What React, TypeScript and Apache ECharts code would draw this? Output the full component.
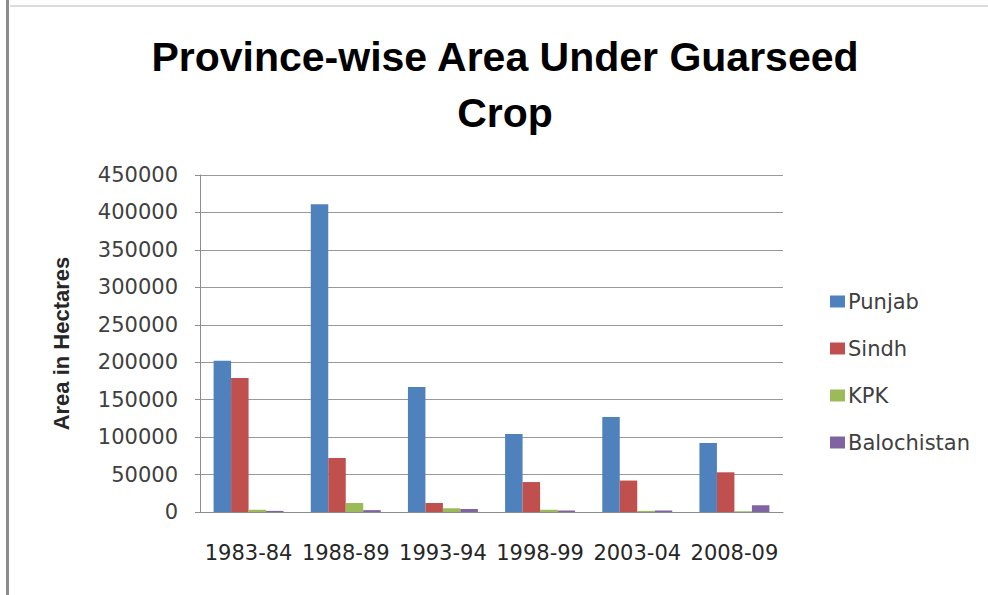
import React, { useEffect, useRef } from "react";
import * as echarts from "echarts";

const categories = ["1983-84", "1988-89", "1993-94", "1998-99", "2003-04", "2008-09"];
const punjab = [202000, 411000, 167000, 104000, 127000, 92000];
const sindh = [179000, 72000, 12000, 40000, 42000, 53000];
const kpk = [3000, 12000, 5000, 3000, 1500, 1000];
const balochistan = [1500, 2500, 4000, 2000, 2000, 9000];
const yTicks = { min: 0, max: 450000, interval: 50000 };

export default function App() {
  const ref = useRef<HTMLDivElement>(null);
  useEffect(() => {
    if (!ref.current) return;
    const chart = echarts.init(ref.current, undefined, { renderer: "svg" });
    const mk = (name: string, data: number[], color: string) => ({
      name,
      type: "bar",
      data,
      barGap: "0%",
      barCategoryGap: "28%",
      itemStyle: { color },
    });
    chart.setOption({
      animation: false,
      backgroundColor: "#ffffff",
      title: {
        text: "Province-wise Area Under Guarseed\nCrop",
        left: 505,
        top: 29,
        textAlign: "center",
        padding: 0,
        textStyle: {
          fontFamily: "Liberation Sans",
          fontWeight: "bold",
          fontSize: 41,
          lineHeight: 56,
          color: "#000000",
        },
      },
      legend: {
        orient: "vertical",
        left: 825,
        top: 286,
        itemWidth: 15,
        itemHeight: 12,
        itemGap: 26,
        icon: "rect",
        textStyle: { fontFamily: "DejaVu Sans", fontSize: 21, lineHeight: 21, color: "#404040", padding: [0, 0, 0, -2] },
        data: ["Punjab", "Sindh", "KPK", "Balochistan"],
      },
      grid: { left: 200, right: 205, top: 175, bottom: 83, containLabel: false },
      xAxis: {
        type: "category",
        data: categories,
        axisLine: { lineStyle: { color: "#8c8c8c", width: 1 } },
        axisTick: { show: false },
        axisLabel: { interval: 0, margin: 30, fontFamily: "DejaVu Sans", fontSize: 21, color: "#262626" },
      },
      yAxis: {
        type: "value",
        min: yTicks.min,
        max: yTicks.max,
        interval: yTicks.interval,
        name: "Area in Hectares",
        nameLocation: "middle",
        nameRotate: 90,
        nameGap: 128,
        nameTextStyle: { fontFamily: "Liberation Sans", fontWeight: "bold", fontSize: 22, color: "#262626" },
        axisLine: { show: true, lineStyle: { color: "#8c8c8c", width: 1 } },
        axisTick: { show: true, length: 5, inside: false, lineStyle: { color: "#8c8c8c" } },
        splitLine: { lineStyle: { color: "#999999", width: 1 } },
        axisLabel: {
          margin: 22,
          fontFamily: "DejaVu Sans",
          fontSize: 21,
          color: "#404040",
          formatter: (v: number) => String(v),
        },
      },
      graphic: [
        { type: "rect", shape: { x: 6, y: 0, width: 3, height: 595 }, style: { fill: "#8c8c8c" } },
        { type: "rect", shape: { x: 10, y: 5, width: 978, height: 2 }, style: { fill: "#dcdcdc" } },
      ],
      series: [
        mk("Punjab", punjab, "#4F81BD"),
        mk("Sindh", sindh, "#C0504D"),
        mk("KPK", kpk, "#9BBB59"),
        mk("Balochistan", balochistan, "#8064A2"),
      ],
    });
    return () => chart.dispose();
  }, []);
  return (
    <div
      ref={ref}
      style={{ position: "fixed", left: 0, top: 0, width: 988, height: 595, background: "#fff" }}
    />
  );
}
